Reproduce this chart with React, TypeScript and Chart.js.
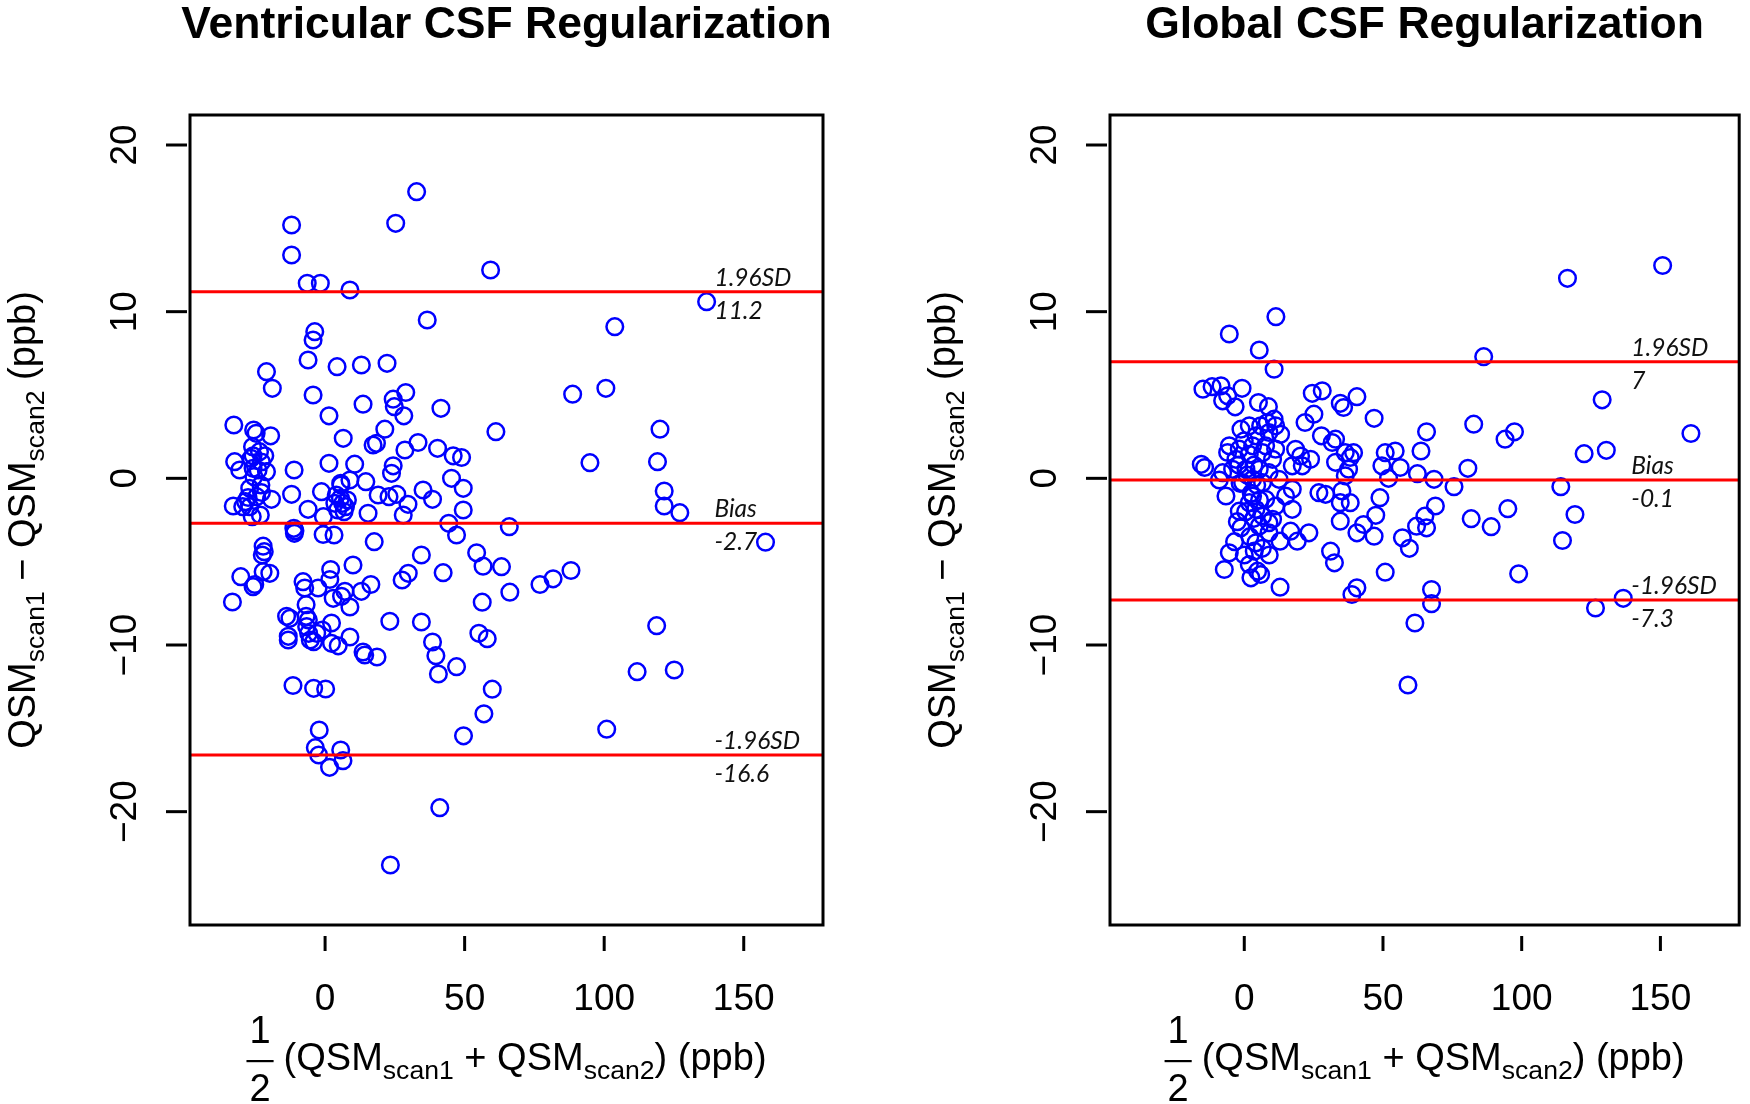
import React, { useEffect, useRef } from "react";
import { Chart, registerables } from "chart.js";

Chart.register(...registerables);

// ---------- axes ----------
const xTicks = [0, 50, 100, 150];
const yTicks = [-20, -10, 0, 10, 20];
const xLimits = [-48.4, 178.4];
const yLimits = [-26.8, 21.8];

// ---------- Ventricular CSF Regularization ----------
const ventMean = [
  32.8, -12.0, 25.3, -12.0, 59.3, -6.4, -1.7, 8.9, 36.6, -3.7,
  -4.3, -6.1, -21.0, -18.9, 4.3, 13.0, 22.2, -4.3, 13.6, 24.4,
  28.9, 24.8, 28.2, 41.5, 1.4, 21.4, 61.2, -32.7, -25.6, -24.7,
  -19.5, 6.5, 17.2, 18.4, 33.3, 28.6, 40.3, 45.9, 48.9, -32.4,
  -30.6, -25.8, -21.6, -22.8, -25.8, -21.0, -11.1, 1.4, 10.6, 24.4,
  23.8, 45.3, 49.5, 14.6, 5.6, -12.0, -1.3, 35.1, 38.5, 19.0,
  22.9, 25.7, 29.7, -19.2, -22.8, -27.6, -32.9, -6.1, 15.4, 28.0,
  49.5, 66.0, 44.3, 47.1, 3.5, 4.5, 5.5, 6.3, 7.3, 4.0,
  6.8, 8.0, 5.7, 8.9, -0.6, -26.1, -23.2, -27.0, -11.2, -11.0,
  -10.8, -26.5, -24.0, -25.5, -23.0, -27.0, -24.5, -28.5, -29.5, -23.5,
  -26.0, -0.7, 3.2, 17.6, -22.2, -21.8, -22.5, 34.5, 54.3, 56.6,
  63.2, 10.0, 2.0, 1.7, -30.2, -25.2, -25.8, -22.2, -19.8, -33.2,
  -7.9, -7.3, -2.5, 7.1, 5.9, 2.9, 8.9, 13.0, 16.4, 27.6,
  29.8, 42.3, 66.2, 77.0, -6.8, 56.3, -13.8, -12.6, -6.8, -6.0,
  -6.6, 2.3, 23.2, 34.5, -13.2, -13.2, -5.9, -5.3, -4.1, 2.3,
  4.7, 8.9, 13.6, 14.2, 18.6, 38.5, 39.7, 40.6, 47.1, 55.1,
  58.1, 59.9, 56.9, 49.6, -11.5, -4.1, 0.2, -2.1, -3.5, -2.3,
  1.6, 5.6, 6.4, 41.1, 23.4, -3.0, -1.0, 81.7, 88.1, 157.8,
  118.8, 111.8, 125.1, 100.9, 136.7, 103.8, 88.7, 100.6, 120.0, 94.9,
  119.1, 121.5, 121.5, 127.1,
];
const ventDiff = [
  17.2, 15.2, 15.3, 13.4, 12.5, 11.7, 11.7, 11.3, 9.5, 8.8,
  8.3, 7.1, 6.4, 5.4, 6.7, 6.8, 6.9, 5.0, 4.45, 4.75,
  5.15, 4.3, 3.75, 4.2, 3.75, 2.95, 2.8, 3.2, 2.9, 2.7,
  2.55, 2.4, 2.0, 2.1, 2.15, 1.7, 1.8, 1.35, 1.25, 1.0,
  0.5, 1.35, 1.35, 0.98, 0.6, 0.4, 0.5, 0.9, 0.85, 0.75,
  0.3, 0.0, -0.6, -0.2, -0.3, -0.96, -0.8, -0.7, -1.26, -1.0,
  -1.1, -0.96, -1.56, -1.26, -0.85, -1.15, -1.66, -1.86, -2.1, -2.2,
  -1.9, -2.9, -2.7, -3.4, -1.5, -1.9, -1.2, -1.5, -1.7, -1.0,
  -2.0, -1.3, -0.4, -0.1, -2.3, -2.3, -2.2, -1.7, -3.0, -3.3,
  -3.15, 1.2, 0.5, 0.1, -0.4, -0.6, -1.1, -1.4, -1.7, 1.6,
  1.9, -3.37, -3.4, -3.8, -4.07, -4.4, -4.6, -4.6, -4.47, -5.27,
  -5.3, -5.2, -5.47, -6.07, -5.9, -6.37, -6.5, -5.6, -5.7, -7.42,
  -6.2, -6.58, -6.58, -6.78, -7.08, -7.2, -7.72, -6.78, -6.37, -6.1,
  -5.7, -5.66, -6.83, -6.37, -7.58, -7.43, -8.28, -8.4, -8.28, -8.5,
  -8.9, -8.68, -8.58, -8.62, -9.48, -9.7, -9.3, -9.7, -9.8, -9.9,
  -10.05, -9.52, -10.42, -10.6, -10.72, -9.82, -10.64, -11.74, -11.3, -9.3,
  -9.62, -12.65, -14.13, -15.45, -12.43, -12.6, -12.64, -15.1, -16.16, -16.6,
  -17.34, -16.3, -16.94, -19.76, -23.2, -9.3, -9.1, -6.03, -5.53, -3.83,
  -8.84, -11.6, -11.5, -15.05, 10.6, 9.1, 5.05, 5.4, 2.95, 0.94,
  1.0, -0.76, -1.66, -2.06,
];
const ventLines = [11.2, -2.7, -16.6];
const ventLineValues = ["11.2", "-2.7", "-16.6"];

// ---------- Global CSF Regularization ----------
const globMean = [
  11.4, -5.4, 5.4, 10.75, -14.9, -11.6, -8.4, -6.0, -7.8, -3.3,
  -0.8, 5.1, 8.7, 10.75, 24.5, 28.1, 25.1, 21.9, 34.6, 35.8,
  40.6, 46.8, 27.8, 32.9, 31.7, 36.4, 39.4, 38.2, 32.9, 37.6,
  36.4, 50.8, 54.4, 49.6, 56.2, 52.0, 23.9, 18.5, 20.3, 17.3,
  20.9, -15.5, -14.3, -7.8, -9.0, -1.2, 1.8, 5.9, 8.3, 11.3,
  13.1, 8.9, 4.2, 0.0, -5.4, -6.0, -1.8, 3.0, 7.7, 11.3,
  -3.0, 1.8, 6.6, 10.2, -4.2, 0.6, 5.4, 8.9, 3.0, -0.6,
  6.6, 12.5, -6.6, -1.8, -1.2, 1.8, 4.2, 6.6, 8.9, 5.4,
  8.9, 3.0, 7.7, 11.3, 10.2, 12.9, 4.2, 3.6, -5.4, -7.2,
  1.8, 4.8, 2.4, 5.9, 12.9, 16.7, 19.1, 23.3, 17.3, 14.9,
  17.3, 26.9, 29.3, 34.6, 38.2, 35.2, 34.6, 31.1, 32.5, 40.6,
  43.0, 46.8, 47.4, 48.9, 40.6, 38.8, 50.8, 57.0, 59.5, 61.5,
  59.0, 1.0, 3.5, -2.0, 4.5, -1.5, 2.5, 5.5, 0.5, 3.5,
  -2.5, 2.0, 6.5, -3.5, 9.0, 0.0, 116.5, 150.8, 86.3, 129.0,
  161.0, 82.7, 94.0, 97.4, 122.5, 130.5, 65.7, 63.7, 62.4, 80.6,
  68.4, 75.6, 114.1, 68.9, 65.1, 62.1, 65.7, 81.8, 89.0, 95.0,
  119.2, 114.7, 98.9, 67.5, 67.5, 126.6, 136.6,
];
const globDiff = [
  9.7, 8.66, 7.7, 6.55, 5.35, 5.5, 5.55, 4.95, 4.65, 4.29,
  5.4, 4.55, 4.3, 3.55, 5.1, 5.25, 3.85, 3.35, 4.5, 4.25,
  4.9, 3.6, 2.55, 2.35, 2.15, 1.54, 1.54, 1.25, 0.96, 0.55,
  0.15, 1.54, 1.64, 0.75, 0.65, 0.0, 1.14, 1.74, 1.34, 0.75,
  0.75, 0.84, 0.65, 0.34, -0.1, 2.95, 3.15, 3.15, 3.35, 3.15,
  2.64, 2.75, 2.55, 2.25, 1.95, 1.55, 1.75, 1.95, 1.95, 1.75,
  1.14, 1.44, 1.54, 1.14, 0.54, 0.54, 0.54, 0.34, -0.06, -0.26,
  -0.26, -0.06, -1.06, -1.97, -2.97, -1.46, -1.86, -2.26, -2.66, -2.86,
  -3.27, -1.06, -1.26, -1.66, -2.46, -3.77, -3.87, -4.37, -4.47, -5.47,
  -5.17, -5.57, -5.97, -5.77, -6.53, -3.17, -3.77, -3.27, -1.86, -1.06,
  -0.66, -0.86, -0.96, -1.46, -1.46, -0.76, -2.57, -4.37, -5.07, -3.27,
  -2.77, -3.47, -2.22, -1.16, -6.57, -6.97, -5.63, -3.57, -4.2, -8.68,
  -12.4, 0.2, 0.8, 0.8, -0.4, -0.3, -0.9, -1.3, -2.0, -2.4,
  -2.6, -3.5, -4.2, -3.8, -4.6, -4.6, 12.0, 12.77, 7.3, 4.71,
  2.69, 3.25, 2.35, 2.79, 1.48, 1.68, 2.79, 1.64, 0.28, 0.6,
  -0.06, -0.5, -0.5, -1.66, -2.27, -2.87, -2.97, -2.42, -2.9, -1.82,
  -2.17, -3.73, -5.73, -6.67, -7.52, -7.78, -7.2,
];
const globLines = [7, -0.1, -7.3];
const globLineValues = ["7", "-0.1", "-7.3"];

const lineNames = ["1.96SD", "Bias", "-1.96SD"];
const lineLabelX = 139.5;
const panelTitles = ["Ventricular CSF Regularization", "Global CSF Regularization"];

// ---------- drawing helpers ----------
const FONT_FAMILY = "'Liberation Sans', Arial, Helvetica, sans-serif";
const MAIN_FONT = `38px ${FONT_FAMILY}`;
const SUB_FONT = `26.6px ${FONT_FAMILY}`;
const SUB_SHIFT = 9;

type Seg = { t: string; sub?: boolean };

const yTitleSegs: Seg[] = [
  { t: "QSM" },
  { t: "scan1", sub: true },
  { t: " \u2212 QSM" },
  { t: "scan2", sub: true },
  { t: " (ppb)" },
];
const xTitleSegs: Seg[] = [
  { t: "(QSM" },
  { t: "scan1", sub: true },
  { t: " + QSM" },
  { t: "scan2", sub: true },
  { t: ") (ppb)" },
];

function segsWidth(ctx: CanvasRenderingContext2D, segs: Seg[]) {
  let w = 0;
  for (const s of segs) {
    ctx.font = s.sub ? SUB_FONT : MAIN_FONT;
    w += ctx.measureText(s.t).width;
  }
  return w;
}

function drawSegs(ctx: CanvasRenderingContext2D, segs: Seg[], x: number, y: number) {
  let cx = x;
  ctx.textAlign = "left";
  ctx.textBaseline = "alphabetic";
  for (const s of segs) {
    ctx.font = s.sub ? SUB_FONT : MAIN_FONT;
    ctx.fillText(s.t, cx, y + (s.sub ? SUB_SHIFT : 0));
    cx += ctx.measureText(s.t).width;
  }
}

function fmtTick(v: number) {
  return v < 0 ? "\u2212" + String(-v) : String(v);
}

type PanelCfg = {
  title: string;
  mean: number[];
  diff: number[];
  lines: number[];
  lineValues: string[];
  padding: { left: number; right: number; top: number; bottom: number };
  canvasLeft: number;
};

function makeDecor(cfg: PanelCfg) {
  return {
    id: "blandAltmanDecor",
    afterDatasetsDraw(chart: any) {
      const { ctx, chartArea: a, scales } = chart;
      const ys = scales.y;
      ctx.save();
      ctx.beginPath();
      ctx.rect(a.left, a.top, a.right - a.left, a.bottom - a.top);
      ctx.clip();
      ctx.strokeStyle = "#ff0000";
      ctx.lineWidth = 3;
      for (const v of cfg.lines) {
        const py = ys.getPixelForValue(v);
        ctx.beginPath();
        ctx.moveTo(a.left, py);
        ctx.lineTo(a.right, py);
        ctx.stroke();
      }
      ctx.restore();
    },
    afterDraw(chart: any) {
      const { ctx, chartArea: a, scales } = chart;
      const xs = scales.x;
      const ys = scales.y;
      ctx.save();
      ctx.fillStyle = "#000";
      ctx.strokeStyle = "#000";

      // box
      ctx.lineWidth = 3;
      ctx.strokeRect(a.left, a.top, a.right - a.left, a.bottom - a.top);

      // x ticks
      ctx.lineWidth = 3;
      ctx.font = `37px ${FONT_FAMILY}`;
      ctx.textAlign = "center";
      ctx.textBaseline = "alphabetic";
      for (const v of xTicks) {
        const px = xs.getPixelForValue(v);
        ctx.beginPath();
        ctx.moveTo(px, a.bottom + 11);
        ctx.lineTo(px, a.bottom + 26);
        ctx.stroke();
        ctx.fillText(fmtTick(v), px, a.bottom + 85);
      }
      // y ticks
      for (const v of yTicks) {
        const py = ys.getPixelForValue(v);
        ctx.beginPath();
        ctx.moveTo(a.left - 24, py);
        ctx.lineTo(a.left - 3, py);
        ctx.stroke();
        ctx.save();
        ctx.translate(a.left - 54, py);
        ctx.rotate(-Math.PI / 2);
        ctx.textAlign = "center";
        ctx.fillText(fmtTick(v), 0, 0);
        ctx.restore();
      }

      // line labels
      ctx.font = `italic 24.5px Lato, 'Open Sans', sans-serif`;
      ctx.textAlign = "left";
      ctx.fillStyle = "#111";
      const lx = xs.getPixelForValue(lineLabelX);
      cfg.lines.forEach((v: number, i: number) => {
        const py = ys.getPixelForValue(v);
        ctx.fillText(lineNames[i], lx, py - 6);
        ctx.fillText(cfg.lineValues[i], lx, py + 27);
      });
      ctx.fillStyle = "#000";

      // title
      const cx = (a.left + a.right) / 2;
      ctx.font = `bold 44.5px ${FONT_FAMILY}`;
      ctx.textAlign = "center";
      ctx.fillText(cfg.title, cx, 38);

      // y axis title
      const cy = (a.top + a.bottom) / 2;
      ctx.save();
      ctx.translate(a.left - 155, cy);
      ctx.rotate(-Math.PI / 2);
      const yw = segsWidth(ctx, yTitleSegs);
      drawSegs(ctx, yTitleSegs, -yw / 2, 0);
      ctx.restore();

      // x axis title with fraction 1/2
      const mw = segsWidth(ctx, xTitleSegs);
      ctx.font = MAIN_FONT;
      const dw = ctx.measureText("1").width;
      const barW = dw + 6;
      const gap = 10;
      const total = barW + gap + mw;
      const sx = cx - total / 2;
      ctx.textAlign = "center";
      ctx.fillText("1", sx + barW / 2, a.bottom + 118);
      ctx.fillText("2", sx + barW / 2, a.bottom + 176);
      ctx.fillRect(sx, a.bottom + 135, barW, 2.2);
      drawSegs(ctx, xTitleSegs, sx + barW + gap, a.bottom + 145);

      ctx.restore();
    },
  };
}

function Panel({ cfg }: { cfg: PanelCfg }) {
  const ref = useRef<HTMLCanvasElement | null>(null);
  useEffect(() => {
    if (!ref.current) return;
    const points = cfg.mean.map((x, i) => ({ x, y: cfg.diff[i] }));
    const chart = new Chart(ref.current, {
      type: "scatter",
      data: {
        datasets: [
          {
            data: points,
            pointRadius: 8.3,
            pointHoverRadius: 8.3,
            pointBorderWidth: 2.5,
            pointHoverBorderWidth: 2.5,
            pointBorderColor: "#0000ff",
            pointBackgroundColor: "rgba(0,0,0,0)",
            pointHoverBackgroundColor: "rgba(0,0,0,0)",
            pointHoverBorderColor: "#0000ff",
            showLine: false,
          } as any,
        ],
      },
      options: {
        animation: false,
        responsive: false,
        maintainAspectRatio: false,
        events: [],
        layout: { padding: cfg.padding },
        plugins: {
          legend: { display: false },
          tooltip: { enabled: false },
          title: { display: false },
        },
        scales: {
          x: { type: "linear", min: xLimits[0], max: xLimits[1], display: false },
          y: { type: "linear", min: yLimits[0], max: yLimits[1], display: false },
        },
      },
      plugins: [makeDecor(cfg) as any],
    });
    return () => chart.destroy();
  }, [cfg]);
  return (
    <canvas
      ref={ref}
      width={875}
      height={1104}
      style={{ position: "absolute", left: cfg.canvasLeft, top: 0, width: 875, height: 1104 }}
    />
  );
}

const ventCfg: PanelCfg = {
  title: panelTitles[0],
  mean: ventMean,
  diff: ventDiff,
  lines: ventLines,
  lineValues: ventLineValues,
  padding: { left: 190, right: 52, top: 115, bottom: 179 },
  canvasLeft: 0,
};
const globCfg: PanelCfg = {
  title: panelTitles[1],
  mean: globMean,
  diff: globDiff,
  lines: globLines,
  lineValues: globLineValues,
  padding: { left: 235, right: 7, top: 115, bottom: 179 },
  canvasLeft: 875,
};

export default function App() {
  return (
    <div
      style={{
        position: "absolute",
        left: 0,
        top: 0,
        width: 1750,
        height: 1104,
        background: "#ffffff",
        overflow: "hidden",
      }}
    >
      <Panel cfg={ventCfg} />
      <Panel cfg={globCfg} />
    </div>
  );
}
